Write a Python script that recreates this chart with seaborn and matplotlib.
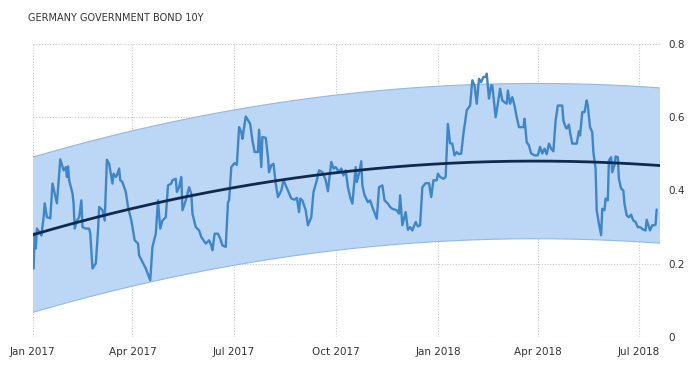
import numpy as np
import pandas as pd
import matplotlib
matplotlib.use("Agg")
import matplotlib.pyplot as plt
import matplotlib.dates as mdates
import seaborn as sns

title = "GERMANY GOVERNMENT BOND 10Y"

dates = [
    "2017-01-02", "2017-01-03", "2017-01-04", "2017-01-05", "2017-01-08", "2017-01-09",
    "2017-01-11", "2017-01-12", "2017-01-14", "2017-01-17", "2017-01-19", "2017-01-21",
    "2017-01-23", "2017-01-26", "2017-01-29", "2017-01-31", "2017-02-01", "2017-02-02",
    "2017-02-03", "2017-02-06", "2017-02-07", "2017-02-08", "2017-02-10", "2017-02-12",
    "2017-02-14", "2017-02-15", "2017-02-18", "2017-02-21", "2017-02-22", "2017-02-24",
    "2017-02-26", "2017-02-27", "2017-03-01", "2017-03-02", "2017-03-05", "2017-03-07",
    "2017-03-09", "2017-03-11", "2017-03-14", "2017-03-15", "2017-03-17", "2017-03-18",
    "2017-03-20", "2017-03-21", "2017-03-23", "2017-03-26", "2017-03-28", "2017-03-31",
    "2017-04-03", "2017-04-06", "2017-04-07", "2017-04-13", "2017-04-17", "2017-04-19",
    "2017-04-22", "2017-04-24", "2017-04-26", "2017-04-28", "2017-05-01", "2017-05-03",
    "2017-05-06", "2017-05-07", "2017-05-10", "2017-05-11", "2017-05-13", "2017-05-15",
    "2017-05-16", "2017-05-19", "2017-05-22", "2017-05-24", "2017-05-25", "2017-05-28",
    "2017-05-31", "2017-06-02", "2017-06-04", "2017-06-06", "2017-06-09", "2017-06-11",
    "2017-06-12", "2017-06-14", "2017-06-17", "2017-06-19", "2017-06-21", "2017-06-24",
    "2017-06-26", "2017-06-27", "2017-06-29", "2017-07-02", "2017-07-04", "2017-07-06",
    "2017-07-08", "2017-07-09", "2017-07-12", "2017-07-16", "2017-07-18", "2017-07-20",
    "2017-07-23", "2017-07-24", "2017-07-26", "2017-07-27", "2017-07-30", "2017-08-01",
    "2017-08-02", "2017-08-04", "2017-08-06", "2017-08-08", "2017-08-10", "2017-08-13",
    "2017-08-15", "2017-08-17", "2017-08-19", "2017-08-22", "2017-08-25", "2017-08-27",
    "2017-08-29", "2017-08-30", "2017-09-01", "2017-09-04", "2017-09-06", "2017-09-09",
    "2017-09-11", "2017-09-14", "2017-09-16", "2017-09-19", "2017-09-22", "2017-09-24",
    "2017-09-27", "2017-09-29", "2017-10-01", "2017-10-04", "2017-10-06", "2017-10-08",
    "2017-10-10", "2017-10-12", "2017-10-14", "2017-10-16", "2017-10-19", "2017-10-20",
    "2017-10-22", "2017-10-24", "2017-10-25", "2017-10-27", "2017-10-30", "2017-11-01",
    "2017-11-03", "2017-11-07", "2017-11-09", "2017-11-12", "2017-11-14", "2017-11-17",
    "2017-11-19", "2017-11-21", "2017-11-25", "2017-11-27", "2017-11-28", "2017-11-30",
    "2017-12-03", "2017-12-05", "2017-12-07", "2017-12-09", "2017-12-12", "2017-12-14",
    "2017-12-16", "2017-12-18", "2017-12-21", "2017-12-24", "2017-12-26", "2017-12-28",
    "2017-12-31", "2018-01-01", "2018-01-03", "2018-01-06", "2018-01-08", "2018-01-10",
    "2018-01-12", "2018-01-14", "2018-01-16", "2018-01-18", "2018-01-20", "2018-01-22",
    "2018-01-24", "2018-01-27", "2018-01-30", "2018-02-01", "2018-02-03", "2018-02-05",
    "2018-02-07", "2018-02-09", "2018-02-11", "2018-02-13", "2018-02-14", "2018-02-16",
    "2018-02-18", "2018-02-19", "2018-02-22", "2018-02-24", "2018-02-26", "2018-02-28",
    "2018-03-02", "2018-03-04", "2018-03-05", "2018-03-07", "2018-03-09", "2018-03-11",
    "2018-03-13", "2018-03-15", "2018-03-17", "2018-03-19", "2018-03-20", "2018-03-22",
    "2018-03-24", "2018-03-26", "2018-03-29", "2018-04-01", "2018-04-03", "2018-04-05",
    "2018-04-07", "2018-04-09", "2018-04-11", "2018-04-13", "2018-04-15", "2018-04-17",
    "2018-04-19", "2018-04-23", "2018-04-24", "2018-04-26", "2018-04-27", "2018-04-29",
    "2018-04-30", "2018-05-02", "2018-05-04", "2018-05-06", "2018-05-08", "2018-05-09",
    "2018-05-11", "2018-05-13", "2018-05-15", "2018-05-16", "2018-05-18", "2018-05-20",
    "2018-05-21", "2018-05-23", "2018-05-24", "2018-05-26", "2018-05-28", "2018-05-29",
    "2018-05-31", "2018-06-01", "2018-06-03", "2018-06-04", "2018-06-06", "2018-06-07",
    "2018-06-09", "2018-06-10", "2018-06-12", "2018-06-13", "2018-06-15", "2018-06-17",
    "2018-06-18", "2018-06-20", "2018-06-22", "2018-06-24", "2018-06-26", "2018-06-28",
    "2018-06-30", "2018-07-02", "2018-07-05", "2018-07-07", "2018-07-08", "2018-07-10",
    "2018-07-11", "2018-07-13", "2018-07-15", "2018-07-16", "2018-07-17",
]

yields = [
    0.187, 0.283, 0.242, 0.296, 0.283, 0.277,
    0.327, 0.365, 0.327, 0.324, 0.419, 0.392,
    0.365, 0.485, 0.455, 0.464, 0.437, 0.466,
    0.428, 0.392, 0.365, 0.296, 0.318, 0.327,
    0.373, 0.300, 0.296, 0.296, 0.283, 0.187,
    0.196, 0.201, 0.291, 0.355, 0.346, 0.318,
    0.484, 0.473, 0.419, 0.446, 0.437, 0.441,
    0.460, 0.428, 0.423, 0.396, 0.355, 0.318,
    0.264, 0.255, 0.223, 0.187, 0.155, 0.246,
    0.282, 0.373, 0.296, 0.318, 0.327, 0.414,
    0.419, 0.428, 0.432, 0.396, 0.409, 0.437,
    0.346, 0.373, 0.409, 0.391, 0.337, 0.300,
    0.291, 0.273, 0.264, 0.255, 0.264, 0.250,
    0.237, 0.282, 0.282, 0.269, 0.250, 0.246,
    0.368, 0.373, 0.464, 0.475, 0.470, 0.573,
    0.559, 0.541, 0.602, 0.582, 0.537, 0.505,
    0.505, 0.566, 0.464, 0.546, 0.544, 0.491,
    0.450, 0.469, 0.473, 0.419, 0.382, 0.400,
    0.428, 0.414, 0.400, 0.378, 0.375, 0.380,
    0.341, 0.378, 0.373, 0.346, 0.305, 0.327,
    0.396, 0.428, 0.455, 0.450, 0.428, 0.398,
    0.478, 0.460, 0.464, 0.450, 0.460, 0.441,
    0.455, 0.409, 0.382, 0.364, 0.464, 0.423,
    0.446, 0.480, 0.414, 0.387, 0.368, 0.373,
    0.355, 0.323, 0.409, 0.414, 0.373, 0.364,
    0.355, 0.350, 0.346, 0.337, 0.387, 0.305,
    0.341, 0.293, 0.300, 0.291, 0.314, 0.302,
    0.305, 0.409, 0.420, 0.420, 0.382, 0.428,
    0.428, 0.446, 0.437, 0.432, 0.437, 0.582,
    0.529, 0.528, 0.496, 0.505, 0.499, 0.501,
    0.555, 0.619, 0.632, 0.701, 0.687, 0.637,
    0.705, 0.696, 0.710, 0.710, 0.719, 0.651,
    0.687, 0.687, 0.600, 0.637, 0.678, 0.646,
    0.641, 0.637, 0.673, 0.637, 0.655, 0.632,
    0.600, 0.573, 0.573, 0.573, 0.596, 0.532,
    0.523, 0.501, 0.496, 0.496, 0.519, 0.501,
    0.514, 0.499, 0.528, 0.514, 0.507, 0.591,
    0.632, 0.632, 0.591, 0.573, 0.569, 0.580,
    0.559, 0.528, 0.528, 0.528, 0.562, 0.550,
    0.614, 0.614, 0.646, 0.632, 0.573, 0.559,
    0.505, 0.460, 0.346, 0.309, 0.278, 0.350,
    0.346, 0.378, 0.373, 0.482, 0.491, 0.450,
    0.469, 0.493, 0.491, 0.432, 0.405, 0.400,
    0.364, 0.332, 0.327, 0.334, 0.318, 0.314,
    0.300, 0.300, 0.293, 0.291, 0.320, 0.300,
    0.291, 0.305, 0.305, 0.307, 0.348,
]

trend_dates = ["2017-01-01", "2017-04-01", "2017-07-01", "2017-10-01",
               "2018-01-01", "2018-04-01", "2018-07-20"]
trend_values = [0.280, 0.348, 0.409, 0.450, 0.473, 0.478, 0.469]
channel_half_width = 0.212

x_ticks = ["2017-01-01", "2017-04-01", "2017-07-01", "2017-10-01",
           "2018-01-01", "2018-04-01", "2018-07-01"]
x_tick_labels = ["Jan 2017", "Apr 2017", "Jul 2017", "Oct 2017",
                 "Jan 2018", "Apr 2018", "Jul 2018"]
y_ticks = [0, 0.2, 0.4, 0.6, 0.8]
y_tick_labels = ["0", "0.2", "0.4", "0.6", "0.8"]

x_start = pd.Timestamp("2017-01-01")
x_end = pd.Timestamp("2018-07-20")

df = pd.DataFrame({"date": pd.to_datetime(dates), "value": yields})

# smooth quadratic curve through the trend readings
tt = mdates.date2num(pd.to_datetime(trend_dates))
t0 = tt.mean()
coef = np.polyfit(tt - t0, trend_values, 2)
grid_dates = pd.date_range(x_start, x_end, freq="D")
tg = mdates.date2num(grid_dates)
trend = np.polyval(coef, tg - t0)
trend_df = pd.DataFrame({"date": grid_dates, "trend": trend})
half = channel_half_width

sns.set_theme(style="white")
plt.rcParams["font.family"] = ["DejaVu Sans"]

fig = plt.figure(figsize=(6.94, 3.69), dpi=100)
ax = fig.add_axes([32.5 / 694, 1 - 337 / 369, (660 - 32.5) / 694, (337 - 44) / 369])

ax.fill_between(grid_dates, trend - half, trend + half, color="#bcd6f6",
                edgecolor="none", zorder=1)
ax.plot(grid_dates, trend + half, color="#93b8e4", lw=0.8, zorder=2)
ax.plot(grid_dates, trend - half, color="#93b8e4", lw=0.8, zorder=2)

sns.lineplot(data=df, x="date", y="value", ax=ax, color="#3f86c8", lw=1.7, zorder=3)
sns.lineplot(data=trend_df, x="date", y="trend", ax=ax, color="#0f2a4d", lw=2.0, zorder=4)

ax.set_xlim(x_start, x_end)
ax.set_ylim(0, 0.8)
ax.set_xticks(pd.to_datetime(x_ticks))
ax.set_xticklabels(x_tick_labels)
ax.set_yticks(y_ticks)
ax.set_yticklabels(y_tick_labels)
ax.yaxis.tick_right()
ax.set_xlabel("")
ax.set_ylabel("")
ax.grid(True, color="#c8c8c8", linestyle=(0, (1, 1.5)), lw=0.8)
ax.set_axisbelow(True)
for s in ax.spines.values():
    s.set_visible(False)
ax.tick_params(axis="x", length=3, color="#c8c8c8", labelsize=7.5, labelcolor="#333333", pad=4)
ax.tick_params(axis="y", length=0, labelsize=7.5, labelcolor="#333333", pad=6)
for lab in ax.get_yticklabels():
    lab.set_horizontalalignment("left")

fig.text(28 / 694, 1 - 18 / 369, title, fontsize=7, color="#333333",
         ha="left", va="center")

fig.savefig("out.png", dpi=100)
